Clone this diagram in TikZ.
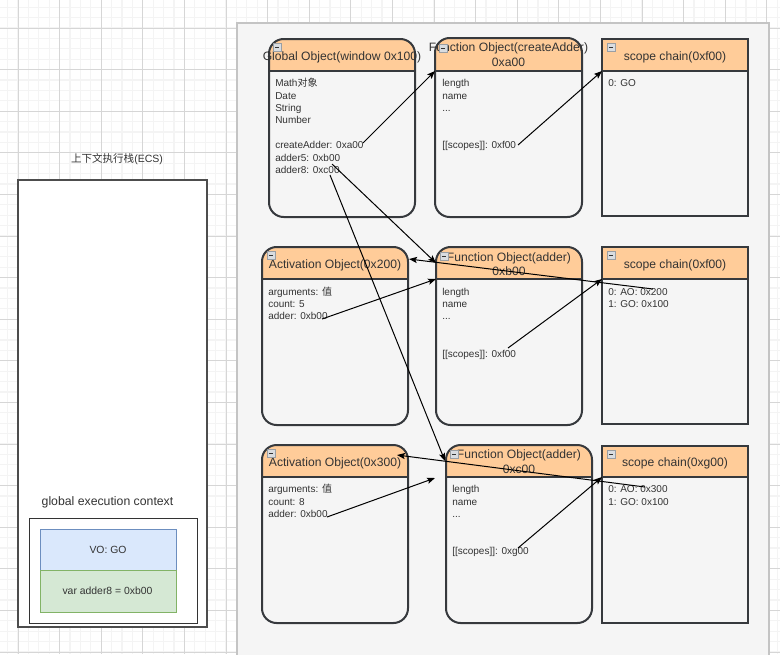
\documentclass[tikz,border=0pt]{standalone}
\usepackage{fontspec}
\setmainfont{Liberation Sans}
\newfontfamily\cjk{Noto Sans CJK SC}
\usetikzlibrary{arrows.meta}
\definecolor{hdr}{HTML}{FFCC99}
\definecolor{bodyfill}{HTML}{F5F5F5}
\definecolor{bstroke}{HTML}{36393D}
\definecolor{txt}{HTML}{333333}
\definecolor{contstroke}{HTML}{C4C4C4}
\definecolor{vofill}{HTML}{DAE8FC}
\definecolor{vostroke}{HTML}{6C8EBF}
\definecolor{varfill}{HTML}{D5E8D4}
\definecolor{varstroke}{HTML}{82B366}
\definecolor{gridminor}{HTML}{F4F4F4}
\definecolor{gridmajor}{HTML}{D6D6D6}
\definecolor{ecsstroke}{HTML}{4D4D4D}
\definecolor{iconfill}{HTML}{D9DCE0}
\definecolor{iconstroke}{HTML}{9A9EA3}

\tikzset{
  boxline/.style={draw=bstroke, line width=1.5pt},
  titletext/.style={font=\fontsize{9.1pt}{11pt}\selectfont, text=txt, inner sep=0pt, text height=6.5pt, text depth=0pt, anchor=center},
  bodytext/.style={font=\fontsize{7.5pt}{9pt}\selectfont, text=txt, inner sep=0pt, anchor=base west},
  smalltext/.style={font=\fontsize{7.8pt}{9pt}\selectfont, text=txt, inner sep=0pt, text height=5.6pt, text depth=0pt, anchor=center},
  iconbox/.style={draw=iconstroke, fill=iconfill, line width=0.5pt},
  icondash/.style={draw=txt, line width=0.7pt},
  arr/.style={draw=black, line width=0.75pt, -{Stealth[length=6pt,width=4.6pt,inset=1.2pt]}},
}

% name, x1, y1, x2, y2, yh, corner radius
\newcommand\objbox[7]{%
  \path[fill=bodyfill, rounded corners=#7] (#2,#3) rectangle (#4,#5);
  \begin{scope}
    \clip[rounded corners=#7] (#2,#3) rectangle (#4,#5);
    \fill[hdr] (#2,#3) rectangle (#4,#6);
  \end{scope}
  \draw[boxline] (#2,#6) -- (#4,#6);
  \draw[boxline, rounded corners=#7] (#2,#3) rectangle (#4,#5);
  \path (#2,#3) coordinate (#1-nw) (#4,#5) coordinate (#1-se)
        (#2,#6) coordinate (#1-hl) (#4,#6) coordinate (#1-hr);
}
\newcommand\minusicon[2]{%
  \draw[iconbox] (#1,#2) rectangle ++(8,8);
  \draw[icondash] (#1+1.8,#2+4) -- (#1+6.2,#2+4);
}

\begin{document}
\begin{tikzpicture}[x=0.75pt, y=-0.75pt]
\useasboundingbox (0,0) rectangle (780,654);
\clip (0,0) rectangle (780,654);
\fill[white] (0,0) rectangle (780,654);

% grid
\foreach \i in {-2,...,76} {\draw[gridminor, line width=0.9pt] ({18+10.4*\i},0) -- ({18+10.4*\i},654);}
\foreach \i in {-3,...,64} {\draw[gridminor, line width=0.9pt] (0,{28+10.4*\i}) -- (780,{28+10.4*\i});}
\foreach \i in {-1,...,19} {\draw[gridmajor, line width=0.75pt] ({18+41.6*\i},0) -- ({18+41.6*\i},654);}
\foreach \i in {-1,...,16} {\draw[gridmajor, line width=0.75pt] (0,{28+41.6*\i}) -- (780,{28+41.6*\i});}

% container
\draw[draw=contstroke, fill=bodyfill, line width=1.2pt] (237,23) rectangle (769,680);

% ---------- left: execution context stack ----------
\node[font=\fontsize{7.9pt}{9pt}\selectfont, text=txt, inner sep=0pt] (ecs-t) at (117,159) {{\cjk 上下文执行栈}(ECS)};
\draw[draw=ecsstroke, fill=white, line width=0.8pt] (18,180) rectangle (207,627);
\path (18,180) coordinate (ecs-nw);
\node[font=\fontsize{9.2pt}{10pt}\selectfont, text=txt, inner sep=0pt] (gec-t) at (107.5,502) {global execution context};
\draw[draw=black!80, fill=white, line width=0.6pt] (29,518) rectangle (197,623);
\draw[draw=vostroke, fill=vofill, line width=0.75pt] (40,529) rectangle (176,570);
\draw[draw=varstroke, fill=varfill, line width=0.75pt] (40,570) rectangle (176,612);
\node[smalltext] (vo) at (108,549.5) {VO: GO};
\node[smalltext] (var) at (107.5,591) {var adder8 = 0xb00};

% ---------- row 1 ----------
\objbox{go}{269}{39}{415}{217}{71}{11pt}
\node[titletext] (go-t) at (342,56) {Global Object(window 0x100)};
\minusicon{273}{43}
\node[bodytext] (go-l1) at (275,86.7) {Math{\cjk 对象}};
\node[bodytext] (go-l2) at (275,99.1) {Date};
\node[bodytext] (go-l3) at (275,111.5) {String};
\node[bodytext] (go-l4) at (275,123.9) {Number};
\node[bodytext] (go-ca) at (275,148.7) {createAdder: 0xa00};
\node[bodytext] (go-a5) at (275,161.1) {adder5: 0xb00};
\node[bodytext] (go-a8) at (275,173.5) {adder8: 0xc00};

\objbox{fa}{435}{38}{582}{217}{71}{11pt}
\node[titletext] (fa-t1) at (508.5,47) {Function Object(createAdder)};
\node[titletext] (fa-t2) at (508.5,62) {0xa00};
\minusicon{439}{44}
\node[bodytext] (fa-l1) at (442,86.7) {length};
\node[bodytext] (fa-l2) at (442,99.1) {name};
\node[bodytext] (fa-l3) at (442,111.5) {...};
\node[bodytext] (fa-sc) at (442,148.7) {[[scopes]]: 0xf00};

\objbox{sa}{602}{39}{748}{216}{71}{0pt}
\node[titletext] (sa-t) at (675,56) {scope chain(0xf00)};
\minusicon{607}{43}
\node[bodytext] (sa-l1) at (608,86.7) {0: GO};

% ---------- row 2 ----------
\objbox{ao1}{262}{247}{408}{425}{279}{11pt}
\node[titletext] (ao1-t) at (335,264) {Activation Object(0x200)};
\minusicon{267}{251}
\node[bodytext] (ao1-l1) at (268,295) {arguments: {\cjk 值}};
\node[bodytext] (ao1-l2) at (268,307.4) {count: 5};
\node[bodytext] (ao1-ad) at (268,319.8) {adder: 0xb00};

\objbox{fb}{436}{247}{582}{425}{279}{11pt}
\node[titletext] (fb-t1) at (509,257) {Function Object(adder)};
\node[titletext] (fb-t2) at (509,271) {0xb00};
\minusicon{440}{252}
\node[bodytext] (fb-l1) at (442,295) {length};
\node[bodytext] (fb-l2) at (442,307.4) {name};
\node[bodytext] (fb-l3) at (442,319.8) {...};
\node[bodytext] (fb-sc) at (442,357) {[[scopes]]: 0xf00};

\objbox{sb}{602}{247}{748}{424}{279}{0pt}
\node[titletext] (sb-t) at (675,264) {scope chain(0xf00)};
\minusicon{607}{251}
\node[bodytext] (sb-l1) at (608,295) {0: AO: 0x200};
\node[bodytext] (sb-l2) at (608,307.4) {1: GO: 0x100};

% ---------- row 3 ----------
\objbox{ao2}{262}{445}{408}{623}{477}{11pt}
\node[titletext] (ao2-t) at (335,462) {Activation Object(0x300)};
\minusicon{267}{449}
\node[bodytext] (ao2-l1) at (268,492.7) {arguments: {\cjk 值}};
\node[bodytext] (ao2-l2) at (268,505.1) {count: 8};
\node[bodytext] (ao2-ad) at (268,517.5) {adder: 0xb00};

\objbox{fc}{446}{445}{592}{623}{477}{11pt}
\node[titletext] (fc-t1) at (519,454) {Function Object(adder)};
\node[titletext] (fc-t2) at (519,469) {0xc00};
\minusicon{450}{450}
\node[bodytext] (fc-l1) at (452,492.7) {length};
\node[bodytext] (fc-l2) at (452,505.1) {name};
\node[bodytext] (fc-l3) at (452,517.5) {...};
\node[bodytext] (fc-sc) at (452,554.7) {[[scopes]]: 0xg00};

\objbox{sc}{602}{446}{748}{623}{477}{0pt}
\node[titletext] (sc-t) at (675,462) {scope chain(0xg00)};
\minusicon{607}{450}
\node[bodytext] (sc-l1) at (608,492.7) {0: AO: 0x300};
\node[bodytext] (sc-l2) at (608,505.1) {1: GO: 0x100};

% ---------- connector end points ----------
\coordinate (s-ca) at (363,143);
\coordinate (s-a5) at (332,164);
\coordinate (s-a8) at (330,175);
\coordinate (s-fa) at (518,145);
\coordinate (s-ao1) at (322,319);
\coordinate (s-fb) at (508,348);
\coordinate (s-sb) at (653,289);
\coordinate (s-ao2) at (327,517);
\coordinate (s-fc) at (518,548);
\coordinate (s-sc) at (645,487);
\coordinate (t-fb) at (436,263);
\coordinate (t-fc) at (445,461);
\coordinate (t-ao1) at (409,259);
\coordinate (t-free) at (435,478);
\coordinate (t-ao2) at (397,455);

% ---------- connectors ----------
\draw[arr] (s-ca) -- (fa-hl);
\draw[arr] (s-fa) -- (sa-hl);
\draw[arr] (s-a5) -- (t-fb);
\draw[arr] (s-a8) -- (t-fc);
\draw[arr] (s-ao1) -- (fb-hl);
\draw[arr] (s-fb) -- (sb-hl);
\draw[arr] (s-sb) -- (t-ao1);
\draw[arr] (s-ao2) -- (t-free);
\draw[arr] (s-fc) -- (sc-hl);
\draw[arr] (s-sc) -- (t-ao2);
\end{tikzpicture}
\end{document}
